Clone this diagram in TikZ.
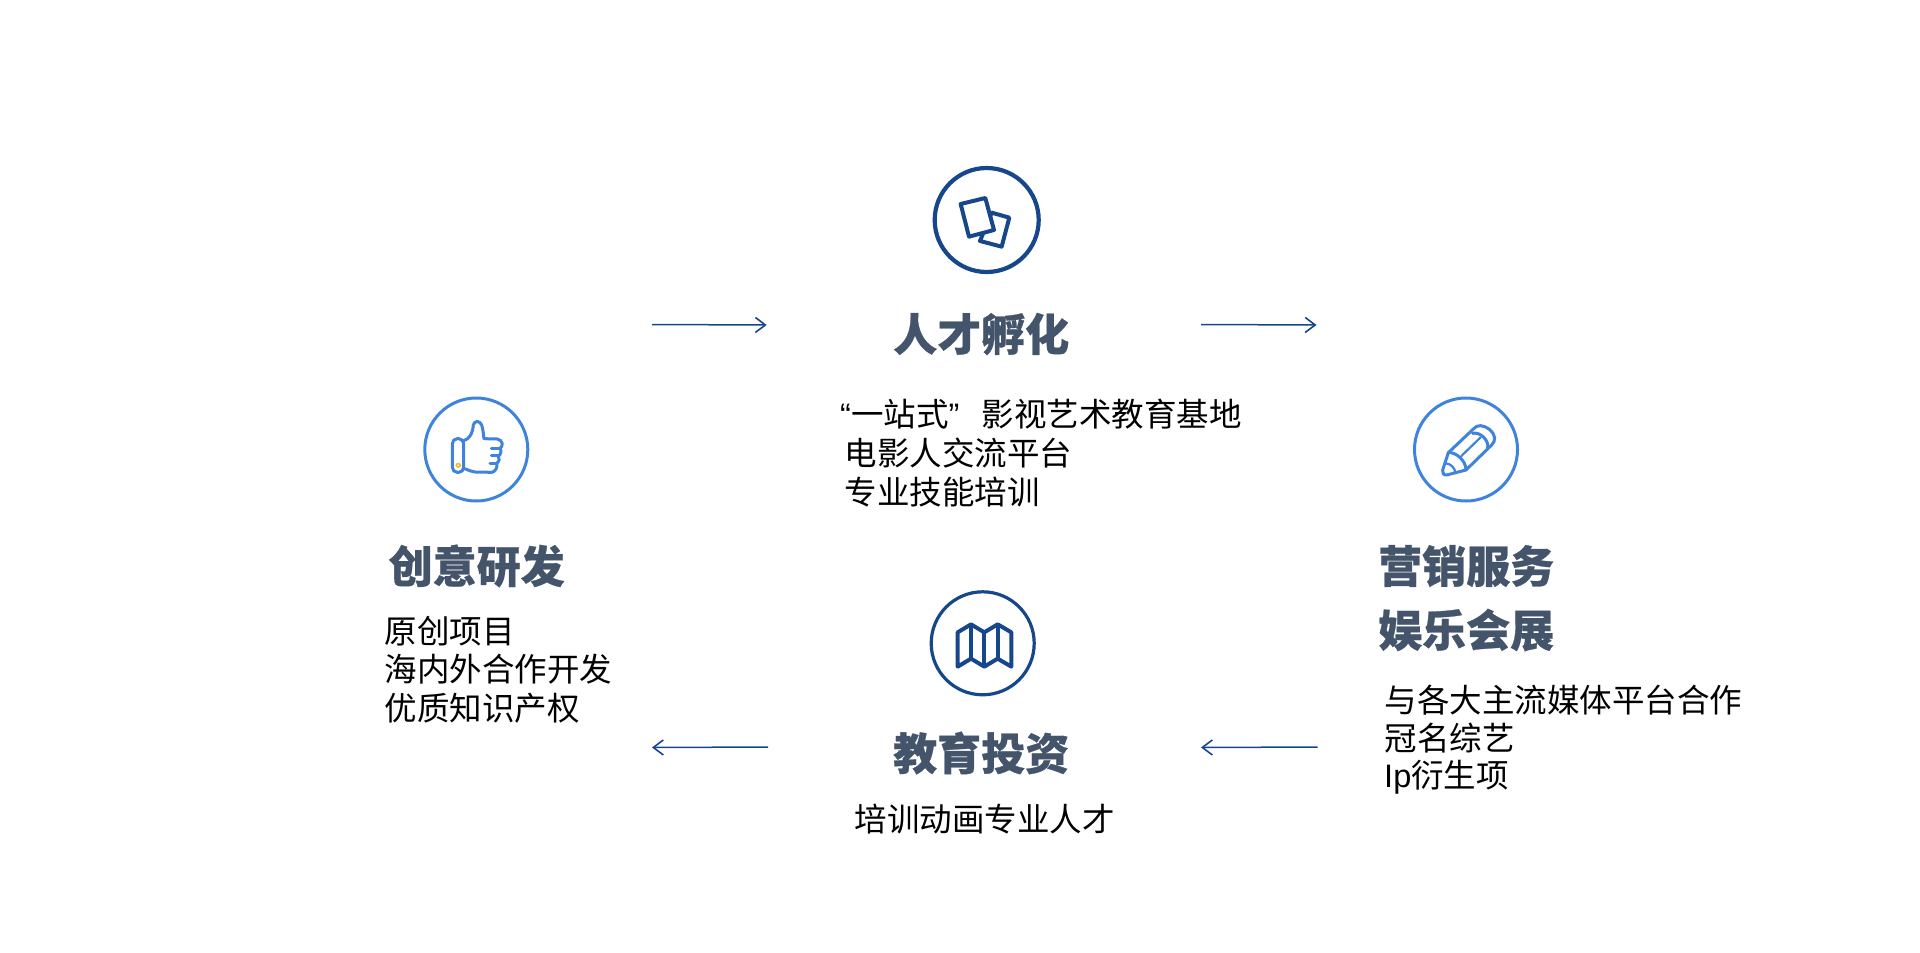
\documentclass[tikz,border=0pt]{standalone}
\usepackage{fontspec}
\usetikzlibrary{arrows.meta}
\setmainfont{Liberation Sans}
\newfontfamily\cjk{Noto Sans CJK SC}
\newfontfamily\cjkb[FakeBold=0.6]{Noto Sans CJK SC Black}
\definecolor{deepb}{HTML}{17478B}
\definecolor{lightb}{HTML}{3F84DC}
\definecolor{slate}{HTML}{44546A}
\definecolor{gold}{HTML}{F5B92E}
\tikzset{
  titlet/.style={anchor=west,inner sep=0pt,text=slate,font=\cjkb\fontsize{44}{50}\selectfont},
  bodyt/.style={anchor=west,inner sep=0pt,text=black,font=\cjk\fontsize{32.5}{38}\selectfont},
  flow/.style={draw=deepb,line width=1.5pt,-{Straight Barb[length=10pt,width=15pt,line width=1.6pt]}},
  ringd/.style={circle,draw=deepb,inner sep=0pt,minimum size=103pt,line width=3.2pt},
  ringl/.style={circle,draw=lightb,inner sep=0pt,minimum size=103pt,line width=3pt},
  icond/.style={draw=deepb,line width=4pt,line join=round,fill=white},
  iconl/.style={draw=lightb,line width=3pt,line join=round,line cap=round},
}
\begin{document}
\begin{tikzpicture}[x=1pt,y=-1pt]
\useasboundingbox (0,0) rectangle (1920,953);
\fill[white] (0,0) rectangle (1920,953);

% rings
\node[ringd,minimum size=104pt,line width=4.2pt] (ringtop) at (986.7,220) {};
\node[ringl] (ringleft) at (476.3,449.5) {};
\node[ringl] (ringright) at (1466,449.5) {};
\node[ringd] (ringbot) at (982.7,643.3) {};

% cards icon
\begin{scope}[shift={(880,140)},x=0.3333pt,y=-0.3333pt]
  \draw[icond] (335,218) -- (388,233) -- (365,320) -- (300,303) -- cycle;
  \draw[icond] (242,192) -- (316,174) -- (342,270) -- (267,290) -- cycle;
\end{scope}

% thumb icon
\begin{scope}[shift={(400,380)},x=0.3333pt,y=-0.3333pt]
  \draw[iconl,rounded corners=5pt] (157,176) rectangle (191,277);
  \draw[iconl] (191,182) .. controls (208,178) and (218,160) .. (220,135)
     .. controls (224,120) and (240,122) .. (245,135)
     .. controls (250,150) and (250,165) .. (252,176)
     -- (292,177) .. controls (310,180) and (310,200) .. (300,205)
     .. controls (305,212) and (303,224) .. (295,228)
     .. controls (300,235) and (298,245) .. (290,250)
     .. controls (294,262) and (285,276) .. (275,277)
     -- (225,276) .. controls (212,274) and (200,268) .. (191,265);
  \draw[iconl] (274,205) -- (300,205) (274,228) -- (295,228) (270,250) -- (290,250);
  \draw[gold,line width=1.6pt] (175,256) ellipse (6 and 5);
\end{scope}

% pencil icon
\begin{scope}[shift={(1390,380)},x=0.3333pt,y=-0.3333pt]
  \draw[iconl] (250,147) .. controls (262,132) and (280,135) .. (298,148)
     .. controls (318,165) and (318,182) .. (305,195)
     -- (228,270) -- (170,285)
     .. controls (160,286) and (156,278) .. (158,270)
     -- (175,218) -- cycle;
  \draw[iconl] (248,160) .. controls (270,155) and (298,180) .. (293,205);
  \draw[iconl] (175,218) .. controls (195,215) and (228,240) .. (228,270);
  \draw[iconl,line width=2.2pt] (214,228) -- (272,172);
  \draw[iconl,line width=2.2pt] (166,250) .. controls (182,250) and (196,265) .. (196,279);
\end{scope}

% map icon
\begin{scope}[shift={(910,580)},x=0.3333pt,y=-0.3333pt]
  \draw[icond,fill=none]
     (143,157) -- (183,133) -- (223,157) -- (263,133) -- (304,157) -- (304,260)
     -- (263,236) -- (223,260) -- (183,236) -- (143,260) -- cycle;
  \draw[icond,fill=none] (183,133) -- (183,236) (223,157) -- (223,260) (263,133) -- (263,236);
\end{scope}

% arrow end points
\coordinate (a1s) at (652,324.5);
\coordinate (a1e) at (766.7,325);
\coordinate (a2s) at (1201,324.5);
\coordinate (a2e) at (1316.5,325);
\coordinate (a3s) at (1317.5,747);
\coordinate (a3e) at (1201,747.5);
\coordinate (a4s) at (768,747);
\coordinate (a4e) at (652,747.5);
\draw[flow] (a1s) -- (a1e);
\draw[flow] (a2s) -- (a2e);
\draw[flow] (a3s) -- (a3e);
\draw[flow] (a4s) -- (a4e);

% titles
\node[titlet] (t1) at (893,334) {人才孵化};
\node[titlet] (t2) at (388.5,566) {创意研发};
\node[titlet] (t3) at (1378,566) {营销服务};
\node[titlet] (t4) at (1378,630) {娱乐会展};
\node[titlet] (t5) at (893,753) {教育投资};

% body text
\node[bodyt] (b1) at (840,414) {{\rmfamily “}一站式{\rmfamily ”}\hspace{22.5pt}影视艺术教育基地};
\node[bodyt] (b2) at (844.5,453) {电影人交流平台};
\node[bodyt] (b3) at (844.5,492) {专业技能培训};
\node[bodyt] (b4) at (384.5,631) {原创项目};
\node[bodyt] (b5) at (384.5,669) {海内外合作开发};
\node[bodyt] (b6) at (384.5,708) {优质知识产权};
\node[bodyt] (b7) at (1384.5,700) {与各大主流媒体平台合作};
\node[bodyt] (b8) at (1384.5,738) {冠名综艺};
\node[bodyt] (b9) at (1384,777) {{\rmfamily Ip}衍生项};
\node[bodyt] (b10) at (854.5,819) {培训动画专业人才};
\end{tikzpicture}
\end{document}
